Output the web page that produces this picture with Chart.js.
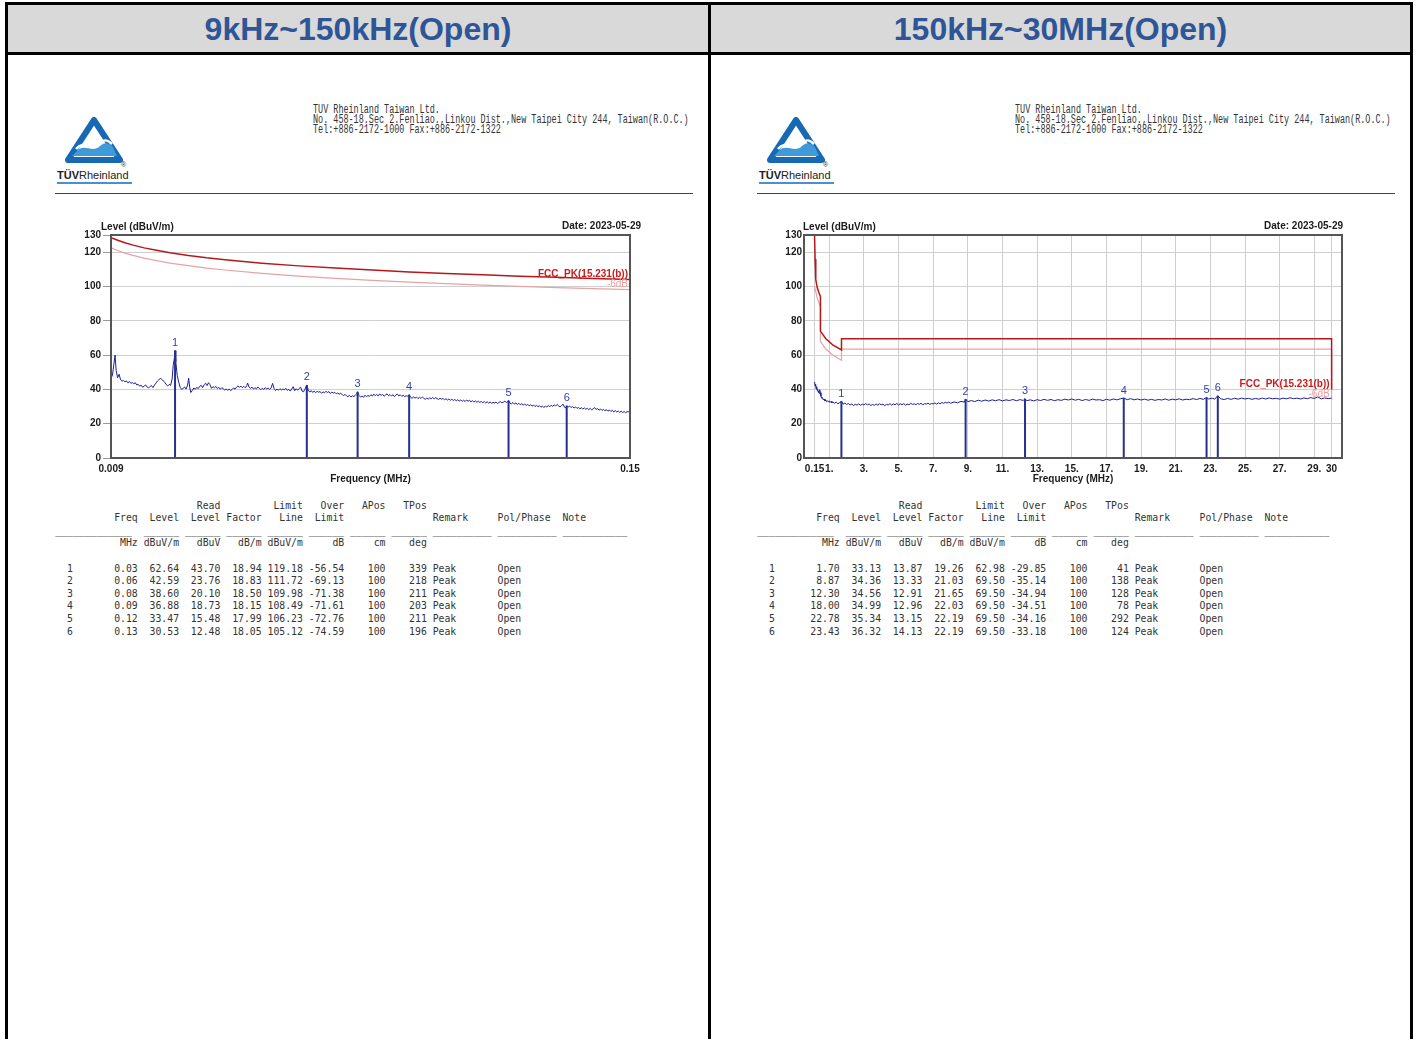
<!DOCTYPE html>
<html>
<head>
<meta charset="utf-8">
<script src="https://cdn.jsdelivr.net/npm/chart.js@4.4.0/dist/chart.umd.min.js"></script>
<style>
    body { margin: 0; background: #fff; width: 1416px; height: 1039px; position: relative; overflow: hidden; font-family: "Liberation Sans", Arial, sans-serif; }
    .bar { position: absolute; background: #000; }
    .head { position: absolute; top: 5px; height: 47px; background: #d9d9d9; }
    .title { position: absolute; top: 5px; height: 47px; line-height: 48px; text-align: center; color: #2f5597; font-weight: bold; font-size: 32px; }
    .panel { position: absolute; top: 0; width: 702px; height: 1039px; }
    .company { position: absolute; left: 313px; top: 105px; font-family: "Liberation Mono", monospace; font-size: 12px; line-height: 10px; color: #333; white-space: pre; transform-origin: 0 0; transform: scaleX(0.705); }
    .rule { position: absolute; left: 55px; top: 193px; width: 638px; height: 1px; background: #444; }
    .brand { position: absolute; left: 57px; top: 169px; font-size: 11px; color: #222; white-space: nowrap; }
    .brand b { font-weight: bold; }
    .reg { position: absolute; left: 121px; top: 161px; font-size: 7px; color: #333; }
    .brandline { position: absolute; left: 57px; top: 182px; width: 75px; height: 2px; background: #4a8fd0; }
    pre.tbl { position: absolute; top: 499.7px; left: 55.2px; margin: 0; font-family: "DejaVu Sans Mono", monospace; font-size: 9.8px; line-height: 12.6px; color: #333; }
    canvas { position: absolute; }
</style>
</head>
<body>

<!-- header row -->
<div class="head" style="left:8px;width:700px"></div>
<div class="head" style="left:711px;width:699px"></div>
<div class="title" style="left:8px;width:700px">9kHz~150kHz(Open)</div>
<div class="title" style="left:711px;width:699px">150kHz~30MHz(Open)</div>
<div class="bar" style="left:5px;top:2px;width:1408px;height:3px"></div>
<div class="bar" style="left:5px;top:52px;width:1408px;height:3px"></div>
<div class="bar" style="left:5px;top:2px;width:3px;height:1037px"></div>
<div class="bar" style="left:708px;top:2px;width:3px;height:1037px"></div>
<div class="bar" style="left:1410px;top:2px;width:3px;height:1037px"></div>

<div class="panel" id="panelL" style="left:0"></div>
<div class="panel" id="panelR" style="left:702px"></div>

<canvas id="chartL" width="600" height="275" style="left:60px;top:215px"></canvas>
<canvas id="chartR" width="610" height="275" style="left:760px;top:215px"></canvas>

<script>
// ===========================================
// DATA
// ===========================================
const yTicks = [0, 20, 40, 60, 80, 100, 120, 130];

// 9kHz ~ 150kHz
const xTicksL = [0.009, 0.15];
const xTickLabelsL = ['0.009', '0.15'];

const traceFreqL = [
    0.0090, 0.0094, 0.0098, 0.0101, 0.0104, 0.0108, 0.0112, 0.0116, 0.0120, 0.0124,
    0.0128, 0.0132, 0.0136, 0.0140, 0.0144, 0.0148, 0.0152, 0.0156, 0.0160, 0.0164,
    0.0168, 0.0172, 0.0176, 0.0180, 0.0184, 0.0188, 0.0192, 0.0196, 0.0200, 0.0204,
    0.0208, 0.0212, 0.0216, 0.0220, 0.0224, 0.0228, 0.0232, 0.0236, 0.0240, 0.0244,
    0.0248, 0.0252, 0.0256, 0.0259, 0.0262, 0.0264, 0.0266, 0.0270, 0.0274, 0.0278,
    0.0282, 0.0286, 0.0290, 0.0294, 0.0298, 0.0301, 0.0304, 0.0307, 0.0311, 0.0315,
    0.0319, 0.0323, 0.0327, 0.0331, 0.0335, 0.0339, 0.0343, 0.0347, 0.0351, 0.0355,
    0.0359, 0.0363, 0.0367, 0.0371, 0.0375, 0.0379, 0.0383, 0.0387, 0.0391, 0.0395,
    0.0399, 0.0403, 0.0407, 0.0411, 0.0415, 0.0419, 0.0423, 0.0427, 0.0431, 0.0435,
    0.0439, 0.0443, 0.0447, 0.0451, 0.0455, 0.0459, 0.0461, 0.0465, 0.0469, 0.0473,
    0.0477, 0.0481, 0.0485, 0.0489, 0.0493, 0.0497, 0.0501, 0.0505, 0.0509, 0.0513,
    0.0517, 0.0521, 0.0525, 0.0529, 0.0533, 0.0537, 0.0541, 0.0545, 0.0549, 0.0553,
    0.0557, 0.0561, 0.0565, 0.0569, 0.0573, 0.0577, 0.0581, 0.0585, 0.0589, 0.0593,
    0.0597, 0.0601, 0.0605, 0.0609, 0.0613, 0.0617, 0.0622, 0.0626, 0.0630, 0.0634,
    0.0638, 0.0642, 0.0646, 0.0650, 0.0654, 0.0658, 0.0662, 0.0666, 0.0670, 0.0674,
    0.0678, 0.0682, 0.0686, 0.0690, 0.0694, 0.0698, 0.0702, 0.0706, 0.0710, 0.0714,
    0.0718, 0.0722, 0.0726, 0.0730, 0.0734, 0.0738, 0.0742, 0.0746, 0.0750, 0.0754,
    0.0758, 0.0760, 0.0764, 0.0768, 0.0772, 0.0776, 0.0780, 0.0784, 0.0788, 0.0792,
    0.0796, 0.0800, 0.0804, 0.0808, 0.0812, 0.0816, 0.0820, 0.0824, 0.0828, 0.0832,
    0.0836, 0.0840, 0.0844, 0.0848, 0.0852, 0.0856, 0.0860, 0.0864, 0.0868, 0.0872,
    0.0876, 0.0880, 0.0884, 0.0888, 0.0892, 0.0896, 0.0900, 0.0904, 0.0908, 0.0912,
    0.0916, 0.0920, 0.0924, 0.0928, 0.0932, 0.0936, 0.0940, 0.0944, 0.0948, 0.0952,
    0.0956, 0.0960, 0.0964, 0.0968, 0.0972, 0.0976, 0.0980, 0.0984, 0.0988, 0.0992,
    0.0996, 0.1000, 0.1004, 0.1008, 0.1012, 0.1016, 0.1020, 0.1024, 0.1028, 0.1032,
    0.1036, 0.1040, 0.1044, 0.1048, 0.1052, 0.1056, 0.1060, 0.1064, 0.1068, 0.1072,
    0.1076, 0.1080, 0.1084, 0.1088, 0.1092, 0.1096, 0.1100, 0.1104, 0.1108, 0.1112,
    0.1116, 0.1120, 0.1124, 0.1128, 0.1132, 0.1136, 0.1140, 0.1144, 0.1148, 0.1152,
    0.1156, 0.1160, 0.1164, 0.1168, 0.1170, 0.1174, 0.1178, 0.1182, 0.1186, 0.1190,
    0.1194, 0.1198, 0.1202, 0.1206, 0.1210, 0.1214, 0.1218, 0.1222, 0.1226, 0.1230,
    0.1234, 0.1238, 0.1242, 0.1246, 0.1250, 0.1254, 0.1258, 0.1262, 0.1266, 0.1270,
    0.1274, 0.1278, 0.1282, 0.1286, 0.1290, 0.1294, 0.1298, 0.1302, 0.1306, 0.1310,
    0.1314, 0.1318, 0.1322, 0.1326, 0.1328, 0.1332, 0.1336, 0.1340, 0.1344, 0.1348,
    0.1352, 0.1356, 0.1360, 0.1364, 0.1368, 0.1372, 0.1376, 0.1380, 0.1384, 0.1388,
    0.1392, 0.1396, 0.1400, 0.1404, 0.1408, 0.1412, 0.1416, 0.1420, 0.1424, 0.1428,
    0.1432, 0.1436, 0.1440, 0.1444, 0.1448, 0.1452, 0.1456, 0.1460, 0.1464, 0.1468,
    0.1472, 0.1476, 0.1480, 0.1484, 0.1488, 0.1492, 0.1496, 0.1500
];
const traceLevelL = [
    46.5, 48.3, 55.0, 60.0, 51.0, 46.8, 48.8, 45.6, 44.8, 45.2,
    44.4, 44.9, 43.8, 44.6, 43.5, 44.0, 43.2, 43.9, 42.6, 42.9,
    41.9, 42.4, 41.2, 41.9, 42.6, 41.4, 40.8, 41.7, 42.2, 41.0,
    42.5, 43.6, 44.8, 45.6, 46.4, 45.9, 44.9, 44.2, 42.8, 42.0,
    42.9, 42.4, 46.0, 54.0, 58.0, 62.6, 56.0, 48.0, 44.2, 41.2,
    40.0, 40.6, 41.4, 40.2, 42.5, 46.5, 41.0, 38.2, 39.4, 40.8,
    40.1, 41.2, 40.4, 41.8, 42.4, 41.0, 42.8, 43.6, 42.2, 43.9,
    42.7, 40.6, 41.6, 40.9, 41.7, 40.5, 41.2, 40.1, 41.0, 40.4,
    39.6, 40.3, 39.4, 40.2, 39.3, 40.0, 40.9, 40.1, 41.3, 42.0,
    41.2, 41.9, 41.0, 41.8, 40.9, 42.2, 43.7, 41.4, 40.6, 41.3,
    40.2, 41.0, 40.3, 41.4, 40.6, 39.8, 40.7, 39.9, 41.0, 40.2,
    40.8, 40.0, 40.9, 43.5, 40.5, 39.3, 40.2, 39.5, 40.4, 39.6,
    40.3, 39.7, 40.6, 39.4, 40.1, 39.0, 40.2, 41.6, 39.2, 40.4,
    39.5, 40.5, 41.3, 39.0, 38.6, 40.1, 42.6, 39.6, 38.4, 39.3,
    38.2, 39.0, 38.1, 38.9, 38.3, 38.8, 37.7, 38.6, 38.0, 38.9,
    38.2, 38.7, 37.6, 38.4, 37.8, 38.3, 37.4, 37.9, 37.2, 37.8,
    37.0, 36.4, 37.1, 36.2, 35.8, 36.5, 35.6, 36.3, 35.7, 36.8,
    37.6, 38.6, 36.4, 35.5, 36.2, 35.4, 36.6, 35.7, 36.5, 35.9,
    36.9, 36.1, 37.2, 36.4, 37.0, 36.2, 37.3, 36.5, 37.1, 36.0,
    36.8, 37.4, 36.3, 37.0, 36.1, 36.9, 35.8, 36.7, 37.3, 36.2,
    36.8, 35.9, 36.6, 35.8, 36.3, 36.0, 36.9, 35.4, 34.8, 35.6,
    34.9, 35.5, 34.6, 35.4, 34.7, 35.6, 34.8, 34.2, 35.0, 34.3,
    35.1, 34.5, 35.3, 34.4, 35.2, 34.6, 34.1, 34.9, 34.2, 34.8,
    33.9, 34.6, 33.8, 34.4, 33.6, 34.3, 33.5, 34.1, 33.4, 34.0,
    33.2, 33.9, 33.0, 33.7, 32.9, 33.8, 33.1, 33.6, 32.8, 33.4,
    32.6, 33.3, 32.5, 33.1, 32.4, 33.0, 32.2, 32.9, 32.1, 32.8,
    32.0, 32.7, 31.8, 32.5, 32.0, 32.6, 31.7, 32.4, 32.9, 32.1,
    32.6, 33.1, 32.4, 33.0, 33.5, 32.0, 31.6, 32.3, 31.4, 32.1,
    31.2, 31.9, 31.0, 31.7, 30.8, 31.5, 30.6, 31.3, 30.4, 31.1,
    30.2, 30.9, 30.0, 30.7, 29.9, 30.5, 29.6, 30.3, 29.5, 30.1,
    29.8, 30.6, 29.9, 30.8, 30.1, 31.0, 30.3, 31.2, 30.4, 29.8,
    30.6, 31.4, 29.6, 29.2, 30.5, 29.7, 30.3, 29.4, 30.0, 29.1,
    29.8, 28.9, 29.5, 28.7, 29.3, 28.5, 29.2, 28.4, 29.0, 28.2,
    28.9, 28.1, 28.7, 29.4, 28.3, 28.8, 27.9, 28.6, 27.7, 28.4,
    27.5, 28.2, 27.3, 28.0, 27.1, 27.8, 26.9, 27.6, 26.8, 27.4,
    26.6, 27.3, 26.5, 27.1, 26.4, 27.0, 26.8, 28.0
];

const limitFreqL = [0.009, 0.011, 0.013, 0.015, 0.018, 0.021, 0.025, 0.030, 0.035, 0.040, 0.050,
                    0.060, 0.070, 0.080, 0.090, 0.100, 0.110, 0.120, 0.130, 0.140, 0.150];
const limitLevelL = [128.5, 126.8, 125.3, 124.1, 122.5, 121.2, 119.6, 118.1, 116.7, 115.6, 113.6,
                     112.0, 110.7, 109.6, 108.5, 107.6, 106.8, 106.0, 105.3, 104.7, 104.1];
const limit6LevelL = [122.5, 120.8, 119.3, 118.1, 116.5, 115.2, 113.6, 112.1, 110.7, 109.6, 107.6,
                      106.0, 104.7, 103.6, 102.5, 101.6, 100.8, 100.0, 99.3, 98.7, 98.1];

const markerFreqL = [0.0264, 0.0622, 0.0760, 0.0900, 0.1170, 0.1328];
const markerLevelL = [62.64, 42.59, 38.60, 36.88, 33.47, 30.53];

// 150kHz ~ 30MHz
const xTicksR = [0.15, 1, 3, 5, 7, 9, 11, 13, 15, 17, 19, 21, 23, 25, 27, 29, 30];
const xTickLabelsR = ['0.15', '1.', '3.', '5.', '7.', '9.', '11.', '13.', '15.', '17.',
                      '19.', '21.', '23.', '25.', '27.', '29.', '30'];

const traceFreqR = [
    0.15, 0.18, 0.21, 0.24, 0.27, 0.30, 0.33, 0.36, 0.39, 0.42,
    0.45, 0.48, 0.52, 0.56, 0.60, 0.65, 0.70, 0.75, 0.80, 0.85,
    0.90, 0.95, 1.00, 1.05, 1.10, 1.15, 1.20, 1.30, 1.40, 1.50,
    1.60, 1.70, 1.80, 1.90, 2.00, 2.10, 2.20, 2.30, 2.40, 2.50,
    2.60, 2.70, 2.80, 2.90, 3.00, 3.10, 3.20, 3.30, 3.40, 3.50,
    3.60, 3.70, 3.80, 3.90, 4.00, 4.10, 4.20, 4.30, 4.40, 4.50,
    4.60, 4.70, 4.80, 4.90, 5.00, 5.10, 5.20, 5.30, 5.40, 5.50,
    5.60, 5.70, 5.80, 5.90, 6.00, 6.10, 6.20, 6.30, 6.40, 6.50,
    6.60, 6.70, 6.80, 6.90, 7.00, 7.10, 7.20, 7.30, 7.40, 7.50,
    7.60, 7.70, 7.80, 7.90, 8.00, 8.20, 8.40, 8.60, 8.80, 8.87,
    9.00, 9.20, 9.40, 9.60, 9.80, 10.0, 10.2, 10.4, 10.6, 10.8,
    11.0, 11.2, 11.4, 11.6, 11.8, 12.0, 12.2, 12.3, 12.4, 12.6,
    12.8, 13.0, 13.2, 13.4, 13.6, 13.8, 14.0, 14.2, 14.4, 14.6,
    14.8, 15.0, 15.2, 15.4, 15.6, 15.8, 16.0, 16.2, 16.4, 16.6,
    16.8, 17.0, 17.2, 17.4, 17.6, 17.8, 18.0, 18.2, 18.4, 18.6,
    18.8, 19.0, 19.2, 19.4, 19.6, 19.8, 20.0, 20.2, 20.4, 20.6,
    20.8, 21.0, 21.2, 21.4, 21.6, 21.8, 22.0, 22.2, 22.4, 22.6,
    22.78, 22.9, 23.1, 23.25, 23.43, 23.6, 23.8, 24.0, 24.2, 24.4,
    24.6, 24.8, 25.0, 25.2, 25.4, 25.6, 25.8, 26.0, 26.2, 26.4,
    26.6, 26.8, 27.0, 27.2, 27.4, 27.6, 27.8, 28.0, 28.2, 28.4,
    28.6, 28.8, 29.0, 29.2, 29.4, 29.6, 29.8, 30.0
];
const traceLevelR = [
    44.3, 42.0, 43.1, 40.2, 41.6, 39.4, 40.1, 38.3, 39.0, 37.6,
    39.8, 38.1, 36.0, 34.8, 35.3, 33.9, 34.4, 33.2, 33.8, 32.9,
    33.4, 32.6, 33.3, 32.4, 33.0, 32.1, 32.7, 31.9, 32.5, 31.6,
    32.3, 33.1, 31.4, 32.0, 31.2, 31.8, 30.9, 31.5, 30.6, 31.3,
    30.8, 31.6, 30.7, 31.4, 30.9, 31.7, 31.0, 31.5, 30.6, 31.2,
    30.7, 31.5, 30.8, 31.6, 31.0, 31.4, 30.5, 31.3, 30.9, 31.7,
    30.8, 31.5, 31.0, 31.8, 30.9, 31.6, 31.1, 31.7, 30.8, 31.4,
    31.0, 31.9, 31.2, 31.6, 31.1, 31.8, 31.3, 31.9, 31.0, 31.7,
    31.4, 32.0, 31.2, 31.8, 31.5, 32.1, 31.4, 32.2, 31.6, 32.4,
    31.8, 32.5, 32.0, 32.6, 31.9, 32.7, 32.2, 33.0, 32.6, 34.4,
    32.8, 33.5, 32.9, 33.7, 33.1, 33.8, 33.2, 33.9, 33.4, 34.0,
    33.3, 33.9, 33.5, 34.1, 33.4, 34.0, 33.6, 34.6, 33.4, 33.9,
    33.3, 34.0, 33.5, 34.2, 33.6, 34.1, 33.4, 34.0, 33.6, 34.3,
    33.8, 34.4, 33.7, 34.2, 33.5, 34.1, 33.6, 34.3, 33.8, 34.0,
    33.5, 34.2, 33.7, 34.4, 33.9, 34.5, 35.0, 34.0, 34.6, 33.9,
    34.4, 33.8, 34.3, 33.7, 34.2, 33.6, 34.1, 33.8, 34.4, 33.7,
    34.3, 33.9, 34.5, 33.8, 34.3, 34.0, 34.6, 34.1, 34.7, 34.2,
    35.3, 34.4, 34.9, 34.3, 36.3, 34.5, 34.1, 34.7, 34.2, 34.8,
    34.3, 34.9, 34.4, 34.8, 34.2, 34.7, 34.3, 34.9, 34.4, 35.0,
    34.5, 34.8, 34.3, 34.9, 34.5, 35.1, 34.6, 34.9, 34.4, 35.0,
    34.6, 35.2, 34.7, 35.6, 34.5, 35.0, 34.6, 34.9
];

const limitFreqR = [0.15, 0.18, 0.22, 0.30, 0.40, 0.49, 0.49, 0.80, 1.20, 1.705, 1.705, 30, 30];
const limitLevelR = [130, 116, 104, 99.5, 96.5, 94, 74, 69.5, 66, 63, 69.5, 69.5, 40];
const limit6LevelR = [100, 98.5, 97, 93.5, 90.5, 88, 68, 63.5, 60, 57, 63.5, 63.5, 34];

const markerFreqR = [1.70, 8.87, 12.30, 18.00, 22.78, 23.43];
const markerLevelR = [33.13, 34.36, 34.56, 34.99, 35.34, 36.32];

// result tables
const tblFreqL = ['0.03', '0.06', '0.08', '0.09', '0.12', '0.13'];
const tblLevelL = ['62.64', '42.59', '38.60', '36.88', '33.47', '30.53'];
const tblReadL = ['43.70', '23.76', '20.10', '18.73', '15.48', '12.48'];
const tblFactorL = ['18.94', '18.83', '18.50', '18.15', '17.99', '18.05'];
const tblLimitL = ['119.18', '111.72', '109.98', '108.49', '106.23', '105.12'];
const tblOverL = ['-56.54', '-69.13', '-71.38', '-71.61', '-72.76', '-74.59'];
const tblTPosL = ['339', '218', '211', '203', '211', '196'];

const tblFreqR = ['1.70', '8.87', '12.30', '18.00', '22.78', '23.43'];
const tblLevelR = ['33.13', '34.36', '34.56', '34.99', '35.34', '36.32'];
const tblReadR = ['13.87', '13.33', '12.91', '12.96', '13.15', '14.13'];
const tblFactorR = ['19.26', '21.03', '21.65', '22.03', '22.19', '22.19'];
const tblLimitR = ['62.98', '69.50', '69.50', '69.50', '69.50', '69.50'];
const tblOverR = ['-29.85', '-35.14', '-34.94', '-34.51', '-34.16', '-33.18'];
const tblTPosR = ['41', '138', '128', '78', '292', '124'];

const tblAPos = '100';
const tblRemark = 'Peak';
const tblPol = 'Open';

const LIMIT_NAME = 'FCC_PK(15.231(b))';
const REPORT_DATE = 'Date: 2023-05-29';

// ===========================================
// REPORT PANELS (logo, address, table)
// ===========================================
const FONT = '"Liberation Sans", Arial, sans-serif';

function padLine(parts) {
    const buf = new Array(100).fill(' ');
    parts.forEach(function(p) {
        const t = p[0];
        const start = p[2] === 'l' ? p[1] : p[1] - t.length;
        for (let i = 0; i < t.length; i++) buf[start + i + 2] = t[i];
    });
    return buf.join('').replace(/\s+$/, '');
}

function buildTable(freq, level, read, factor, limit, over, tpos) {
    const lines = [];
    lines.push(padLine([['Read', 26], ['Limit', 40], ['Over', 47], ['APos', 54], ['TPos', 61]]));
    lines.push(padLine([['Freq', 12], ['Level', 19], ['Level', 26], ['Factor', 33], ['Line', 40], ['Limit', 47],
                        ['Remark', 62, 'l'], ['Pol/Phase', 73, 'l'], ['Note', 84, 'l']]));
    lines.push('_____________  ______ ______ ______ ______ ______ ______ ______ __________ __________ ___________');
    lines.push(padLine([['MHz', 12], ['dBuV/m', 19], ['dBuV', 26], ['dB/m', 33], ['dBuV/m', 40], ['dB', 47], ['cm', 54], ['deg', 61]]));
    lines.push('');
    for (let i = 0; i < freq.length; i++) {
        lines.push(padLine([[String(i + 1), 0, 'l'], [freq[i], 12], [level[i], 19], [read[i], 26], [factor[i], 33],
                            [limit[i], 40], [over[i], 47], [tblAPos, 54], [tpos[i], 61], [tblRemark, 62, 'l'], [tblPol, 73, 'l']]));
    }
    return lines.join('\n');
}

function buildPanel(el, tableText) {
    el.innerHTML =
        '<svg style="position:absolute;left:62px;top:116px" width="64" height="50" viewBox="0 0 64 50">' +
        '<path d="M32 4 L58 44 L6 44 Z" fill="none" stroke="#1769b3" stroke-width="6" stroke-linejoin="round"/>' +
        '<path d="M14 36 C22 26 30 38 38 30 C44 25 48 28 51 31 L55 40 L10 40 Z" fill="#3f9ad9"/>' +
        '<path d="M14 33 C22 23 30 35 38 27 C43 22 47 25 50 28" fill="none" stroke="#fff" stroke-width="2.5"/>' +
        '</svg>' +
        '<div class="brand"><b>TÜV</b>Rheinland</div>' +
        '<div class="reg">®</div>' +
        '<div class="brandline"></div>' +
        '<div class="company">TUV Rheinland Taiwan Ltd.\n' +
        'No. 458-18.Sec 2.Fenliao.,Linkou Dist.,New Taipei City 244, Taiwan(R.O.C.)\n' +
        'Tel:+886-2172-1000 Fax:+886-2172-1322</div>' +
        '<div class="rule"></div>';
    const pre = document.createElement('pre');
    pre.className = 'tbl';
    pre.textContent = tableText;
    el.appendChild(pre);
}

buildPanel(document.getElementById('panelL'),
    buildTable(tblFreqL, tblLevelL, tblReadL, tblFactorL, tblLimitL, tblOverL, tblTPosL));
buildPanel(document.getElementById('panelR'),
    buildTable(tblFreqR, tblLevelR, tblReadR, tblFactorR, tblLimitR, tblOverR, tblTPosR));

// ===========================================
// CHART PLUGINS
// ===========================================
const reportPlugin = {
    id: 'report',
    afterDraw(chart, args, opts) {
        const ctx = chart.ctx;
        const a = chart.chartArea;
        const xs = chart.scales.x;
        const ys = chart.scales.y;
        ctx.save();

        // plot frame
        ctx.strokeStyle = '#555';
        ctx.lineWidth = 2;
        ctx.strokeRect(a.left, a.top, a.right - a.left, a.bottom - a.top);

        // axis caption + date
        ctx.fillStyle = '#1a1a1a';
        ctx.font = 'bold 10px ' + FONT;
        ctx.textBaseline = 'middle';
        ctx.textAlign = 'left';
        ctx.fillText('Level (dBuV/m)', opts.levelX, 12);
        ctx.textAlign = 'right';
        ctx.fillText(REPORT_DATE, opts.dateRight, 11);

        // limit line names at the end of each limit
        chart.data.datasets.forEach(function(ds, i) {
            if (!ds.tag) return;
            const pts = chart.getDatasetMeta(i).data;
            const last = pts[pts.length - 1];
            ctx.font = (ds.tagBold ? 'bold ' : '') + '10px ' + FONT;
            ctx.fillStyle = ds.tagColor;
            ctx.textAlign = 'right';
            ctx.textBaseline = 'bottom';
            ctx.fillText(ds.tag, last.x - 2, last.y);
        });

        // marker numbers
        ctx.font = '11px ' + FONT;
        ctx.fillStyle = '#3442a8';
        ctx.textAlign = 'center';
        ctx.textBaseline = 'bottom';
        opts.markerFreq.forEach(function(f, i) {
            ctx.fillText(String(i + 1), xs.getPixelForValue(f), ys.getPixelForValue(opts.markerLevel[i]) - 2);
        });
        ctx.restore();
    }
};

function toXY(xs, ys) {
    return xs.map(function(x, i) { return { x: x, y: ys[i] }; });
}

function makeChart(id, cfg) {
    const markerPts = [];
    cfg.markerFreq.forEach(function(f, i) {
        markerPts.push({ x: f, y: 0 }, { x: f, y: cfg.markerLevel[i] }, { x: f, y: null });
    });

    return new Chart(document.getElementById(id), {
        type: 'line',
        data: {
            datasets: [
                { label: 'markers', data: markerPts, borderColor: '#27308f', borderWidth: 2, spanGaps: false },
                { label: 'trace', data: toXY(cfg.traceFreq, cfg.traceLevel), borderColor: '#1c1f94', borderWidth: 1 },
                { label: LIMIT_NAME, data: toXY(cfg.limitFreq, cfg.limitLevel), borderColor: '#b3191b', borderWidth: 1.5,
                  tag: LIMIT_NAME, tagColor: '#cc1a1a', tagBold: true },
                { label: '-6dB', data: toXY(cfg.limitFreq, cfg.limit6Level), borderColor: '#e6a3a3', borderWidth: 1.2,
                  tag: '-6dB', tagColor: '#eaa0a0', tagBold: false }
            ]
        },
        options: {
            responsive: false,
            animation: false,
            events: [],
            layout: { padding: { top: 20, right: cfg.padRight, left: 0, bottom: 0 } },
            elements: { point: { radius: 0 }, line: { tension: 0 } },
            plugins: {
                legend: { display: false },
                tooltip: { enabled: false },
                report: { levelX: cfg.levelX, dateRight: cfg.dateRight, markerFreq: cfg.markerFreq, markerLevel: cfg.markerLevel }
            },
            scales: {
                x: {
                    type: 'linear',
                    min: cfg.xMin,
                    max: cfg.xMax,
                    afterBuildTicks: function(s) { s.ticks = cfg.xTicks.map(function(v) { return { value: v }; }); },
                    afterFit: function(s) { s.height = 32; },
                    grid: { display: cfg.xGrid, color: '#cfcfcf', drawTicks: false },
                    border: { display: false },
                    ticks: {
                        autoSkip: false, maxRotation: 0, minRotation: 0, padding: 5,
                        color: '#1a1a1a', font: { family: FONT, size: 10, weight: 'bold' },
                        callback: function(v, i) { return cfg.xTickLabels[i]; }
                    },
                    title: {
                        display: true, text: 'Frequency (MHz)', color: '#1a1a1a',
                        font: { family: FONT, size: 10, weight: 'bold' }, padding: { top: 0, bottom: 5 }
                    }
                },
                y: {
                    type: 'linear',
                    min: 0,
                    max: 130,
                    afterBuildTicks: function(s) { s.ticks = yTicks.map(function(v) { return { value: v }; }); },
                    afterFit: function(s) { s.width = cfg.yWidth; },
                    grid: { color: '#cfcfcf', drawTicks: cfg.yTickLen > 0, tickLength: cfg.yTickLen, tickColor: '#999' },
                    border: { display: false },
                    ticks: { padding: 2, color: '#1a1a1a', font: { family: FONT, size: 10, weight: 'bold' } }
                }
            }
        },
        plugins: [reportPlugin]
    });
}

makeChart('chartL', {
    xMin: 0.009, xMax: 0.15, xTicks: xTicksL, xTickLabels: xTickLabelsL, xGrid: false,
    traceFreq: traceFreqL, traceLevel: traceLevelL,
    limitFreq: limitFreqL, limitLevel: limitLevelL, limit6Level: limit6LevelL,
    markerFreq: markerFreqL, markerLevel: markerLevelL,
    yWidth: 51, yTickLen: 8, padRight: 30, levelX: 41, dateRight: 581
});

makeChart('chartR', {
    xMin: -0.46, xMax: 30.6, xTicks: xTicksR, xTickLabels: xTickLabelsR, xGrid: true,
    traceFreq: traceFreqR, traceLevel: traceLevelR,
    limitFreq: limitFreqR, limitLevel: limitLevelR, limit6Level: limit6LevelR,
    markerFreq: markerFreqR, markerLevel: markerLevelR,
    yWidth: 44, yTickLen: 0, padRight: 28, levelX: 43, dateRight: 583
});
</script>
</body>
</html>
